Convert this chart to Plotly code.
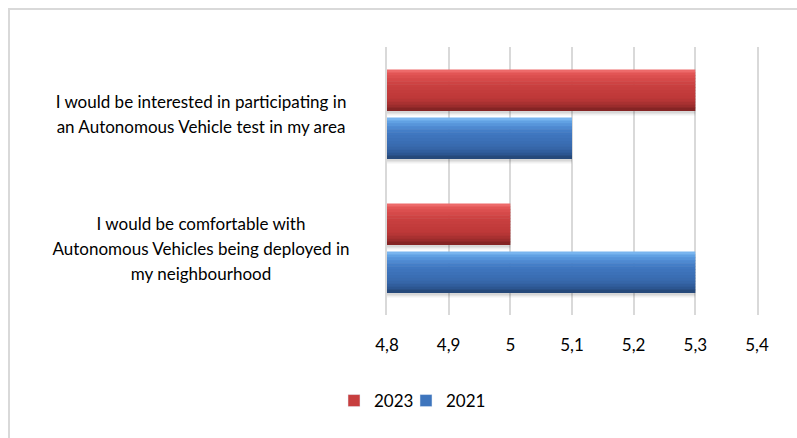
import plotly.graph_objects as go

# Survey statements (top to bottom) and mean agreement scores per wave
categories = [
    "I would be interested in participating in<br>an Autonomous Vehicle test in my area",
    "I would be comfortable with<br>Autonomous Vehicles being deployed in<br>my neighbourhood",
]
series_names = ["2023", "2021"]
values_2023 = [5.3, 5.0]
values_2021 = [5.1, 5.3]
x_ticks = [4.8, 4.9, 5.0, 5.1, 5.2, 5.3, 5.4]

FONT = "Lato, 'Open Sans', sans-serif"
W, H = 797, 438
M_L, M_R, M_T, M_B = 387, 40, 47, 123
PLOT_W = W - M_L - M_R
PLOT_H = H - M_T - M_B
CAT_PX = PLOT_H / len(categories)  # pixels per category band

BAR_PX = 41      # bar thickness
GAP_PX = 7       # gap between the two bars of a group
N_STRIPS = 14    # slices used for the glossy vertical gradient
LINE_PX = 25     # line pitch of the category labels


def hex_to_rgb(h):
    h = h.lstrip("#")
    return tuple(int(h[i:i + 2], 16) for i in (0, 2, 4))


def gradient_color(stops, t):
    for (t0, c0), (t1, c1) in zip(stops, stops[1:]):
        if t0 <= t <= t1:
            f = 0 if t1 == t0 else (t - t0) / (t1 - t0)
            a, b = hex_to_rgb(c0), hex_to_rgb(c1)
            r = [round(a[i] + (b[i] - a[i]) * f) for i in range(3)]
            return f"rgb({r[0]},{r[1]},{r[2]})"
    return stops[-1][1]


def tick_text(v):
    s = f"{v:.1f}"
    if s.endswith(".0"):
        s = s[:-2]
    return s.replace(".", ",")


red_stops = [(0.0, "#F27575"), (0.10, "#E35656"), (0.35, "#CB4040"),
             (0.72, "#BC3838"), (0.90, "#9A2B2B"), (1.0, "#7A2020")]
blue_stops = [(0.0, "#86C0F5"), (0.10, "#62A2E4"), (0.35, "#4079C3"),
              (0.72, "#3869AD"), (0.90, "#2C5590"), (1.0, "#22426E")]

# top edge of each series' bar, in px relative to the category centre (downwards);
# each series gets its own legend box so the two keys sit close together
group_px = 2 * BAR_PX + GAP_PX
series = [
    ("2023", values_2023, red_stops, -group_px / 2, "legend", 334),
    ("2021", values_2021, blue_stops, -group_px / 2 + BAR_PX + GAP_PX, "legend2", 406),
]

fig = go.Figure()

# soft drop shadow under every bar
for name, vals, stops, top_px, leg, leg_x in series:
    for dy, alpha in [(5, 0.06), (3, 0.10)]:
        fig.add_trace(go.Bar(
            x=vals, y=categories, orientation="h",
            offset=(top_px + dy) / CAT_PX, width=BAR_PX / CAT_PX,
            marker=dict(color=f"rgba(0,0,0,{alpha})", line=dict(width=0)),
            showlegend=False, hoverinfo="skip",
        ))

# glossy bars built from horizontal strips
for name, vals, stops, top_px, leg, leg_x in series:
    strip = BAR_PX / N_STRIPS
    for i in range(N_STRIPS):
        t = (i + 0.5) / N_STRIPS
        fig.add_trace(go.Bar(
            x=vals, y=categories, orientation="h",
            offset=(top_px + i * strip) / CAT_PX,
            width=(strip + 0.6) / CAT_PX,
            marker=dict(color=gradient_color(stops, t), line=dict(width=0)),
            name=name, legendgroup=name,
            showlegend=False, hoverinfo="x+name",
        ))

# legend entries
legend_cfg = {}
for name, vals, stops, top_px, leg, leg_x in series:
    fig.add_trace(go.Bar(
        x=[None], y=[categories[0]], orientation="h",
        marker=dict(color=gradient_color(stops, 0.45)),
        name=name, legendgroup=name, showlegend=True, legend=leg,
    ))
    legend_cfg[leg] = dict(
        orientation="h", x=(leg_x - M_L) / PLOT_W, xanchor="left",
        y=(H - M_B - 401) / PLOT_H, yanchor="middle",
        font=dict(family=FONT, size=17, color="#000000"),
        itemwidth=30, bgcolor="rgba(0,0,0,0)",
    )

# category labels, one annotation per line, centred left of the plot
for cat in categories:
    lines = cat.split("<br>")
    n = len(lines)
    for k, line in enumerate(lines):
        fig.add_annotation(
            x=(368 - M_L) / PLOT_W, xref="paper", xanchor="right",
            y=cat, yref="y", yanchor="middle",
            yshift=-(k - (n - 1) / 2) * LINE_PX,
            text=line, showarrow=False, align="center", width=330,
            font=dict(family=FONT, size=17, color="#000000"),
        )

# outer chart frame
fig.add_shape(
    type="rect", xref="paper", yref="paper",
    x0=(9 - M_L) / PLOT_W, x1=1.3, y0=-0.6, y1=(H - M_B - 9) / PLOT_H,
    line=dict(color="#D9D9D9", width=2), fillcolor="rgba(0,0,0,0)", layer="below",
)

fig.update_layout(
    width=W, height=H,
    margin=dict(l=M_L, r=M_R, t=M_T, b=M_B),
    paper_bgcolor="white", plot_bgcolor="white",
    barmode="overlay",
    separators=", ",
    font=dict(family=FONT, size=17, color="#000000"),
    showlegend=True,
    legend=legend_cfg["legend"],
    legend2=legend_cfg["legend2"],
    xaxis=dict(
        range=[x_ticks[0], x_ticks[-1]],
        tickmode="array", tickvals=x_ticks,
        ticktext=[tick_text(v) for v in x_ticks],
        showgrid=True, gridcolor="#D9D9D9", gridwidth=2,
        zeroline=False, showline=False,
        ticks="outside", ticklen=15, tickcolor="rgba(0,0,0,0)",
        tickfont=dict(family=FONT, size=17, color="#000000"),
        fixedrange=True,
    ),
    yaxis=dict(
        type="category", autorange="reversed",
        categoryorder="array", categoryarray=categories,
        showticklabels=False, showgrid=False, zeroline=False,
        showline=True, mirror=True, linecolor="#D9D9D9", linewidth=2,
        fixedrange=True,
    ),
)

fig.write_html("out.html")
